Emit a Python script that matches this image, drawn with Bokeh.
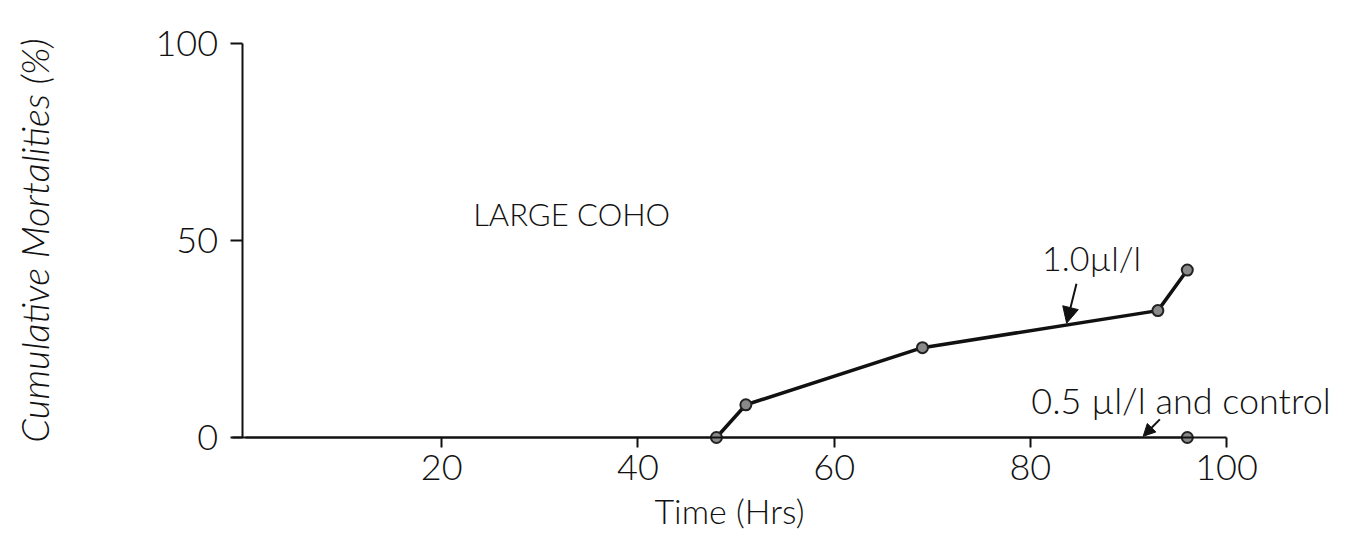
from bokeh.plotting import figure
from bokeh.models import Range1d, FixedTicker, Arrow, NormalHead, Label
from bokeh.embed import file_html
from bokeh.resources import INLINE

# ---- data ----
hours_10 = [48, 51, 69, 93, 96]
mort_10 = [0, 8.3, 22.8, 32.2, 42.5]
hours_ctrl_line = [0, 96]
mort_ctrl_line = [0, 0]
hours_ctrl_pts = [96]
mort_ctrl_pts = [0]
x_ticks = [20, 40, 60, 80, 100]
y_ticks = [0, 50, 100]

FONT = "Lato Light, Lato"

p = figure(width=1332, height=536,
           x_range=Range1d(-24.98, 110.8), y_range=Range1d(-25.13, 110.91),
           output_backend="svg", toolbar_location=None,
           min_border_left=0, min_border_right=0, min_border_top=0, min_border_bottom=0)
p.grid.visible = False
p.outline_line_color = None
p.background_fill_color = "white"
p.border_fill_color = "white"

xa = p.xaxis[0]
xa.fixed_location = 0
xa.bounds = (-1.3, 100)
xa.ticker = FixedTicker(ticks=x_ticks)
xa.minor_tick_line_color = None
xa.major_tick_out = 10
xa.major_tick_in = 0
xa.axis_line_width = 2
xa.major_tick_line_width = 2
xa.axis_line_color = "#111111"
xa.major_tick_line_color = "#111111"
xa.major_label_text_font = FONT
xa.major_label_text_font_size = "36px"
xa.major_label_text_color = "#111111"
xa.major_label_standoff = 8
xa.axis_label = "Time (Hrs)"
xa.axis_label_text_font = FONT
xa.axis_label_text_font_size = "34px"
xa.axis_label_text_font_style = "normal"
xa.axis_label_text_color = "#111111"
xa.axis_label_standoff = 6

ya = p.yaxis[0]
ya.fixed_location = -0.35
ya.bounds = (0, 100)
ya.ticker = FixedTicker(ticks=y_ticks)
ya.minor_tick_line_color = None
ya.major_tick_out = 12
ya.major_tick_in = 0
ya.axis_line_width = 2
ya.major_tick_line_width = 2
ya.axis_line_color = "#111111"
ya.major_tick_line_color = "#111111"
ya.major_label_text_font = FONT
ya.major_label_text_font_size = "36px"
ya.major_label_text_color = "#111111"
ya.major_label_standoff = 12
ya.axis_label = "Cumulative Mortalities (%)"
ya.axis_label_text_font = FONT
ya.axis_label_text_font_size = "38px"
ya.axis_label_text_font_style = "italic"
ya.axis_label_text_color = "#111111"
ya.axis_label_standoff = 96

# series
p.line(hours_ctrl_line, mort_ctrl_line, line_color="#111111", line_width=2)
p.line(hours_10, mort_10, line_color="#111111", line_width=3.5)
p.scatter(hours_10, mort_10, size=11, marker="circle",
          fill_color="#8a8a8a", line_color="#222222", line_width=2)
p.scatter(hours_ctrl_pts, mort_ctrl_pts, size=11, marker="circle",
          fill_color="#8a8a8a", line_color="#222222", line_width=2)

# annotations
p.add_layout(Label(x=23.2, y=56.6, text="LARGE  COHO", text_font=FONT,
                   text_font_size="31px", text_color="#111111",
                   text_baseline="alphabetic"))
p.add_layout(Label(x=81.2, y=45.6, text="1.0µl/l", text_font=FONT,
                   text_font_size="34px", text_color="#111111",
                   text_baseline="alphabetic"))
p.add_layout(Label(x=80.1, y=9.4, text="0.5 µl/l and control", text_font=FONT,
                   text_font_size="36px", text_color="#111111",
                   text_baseline="alphabetic"))
p.add_layout(Arrow(end=NormalHead(size=16, fill_color="#111111", line_color="#111111"),
                   x_start=84.7, y_start=39.0, x_end=83.7, y_end=29,
                   line_width=2, line_color="#111111"))
p.add_layout(Arrow(end=NormalHead(size=12, fill_color="#111111", line_color="#111111"),
                   x_start=93.2, y_start=4.6, x_end=91.5, y_end=0.3,
                   line_width=2, line_color="#111111"))

open("out.html", "w").write(file_html(p, INLINE))
